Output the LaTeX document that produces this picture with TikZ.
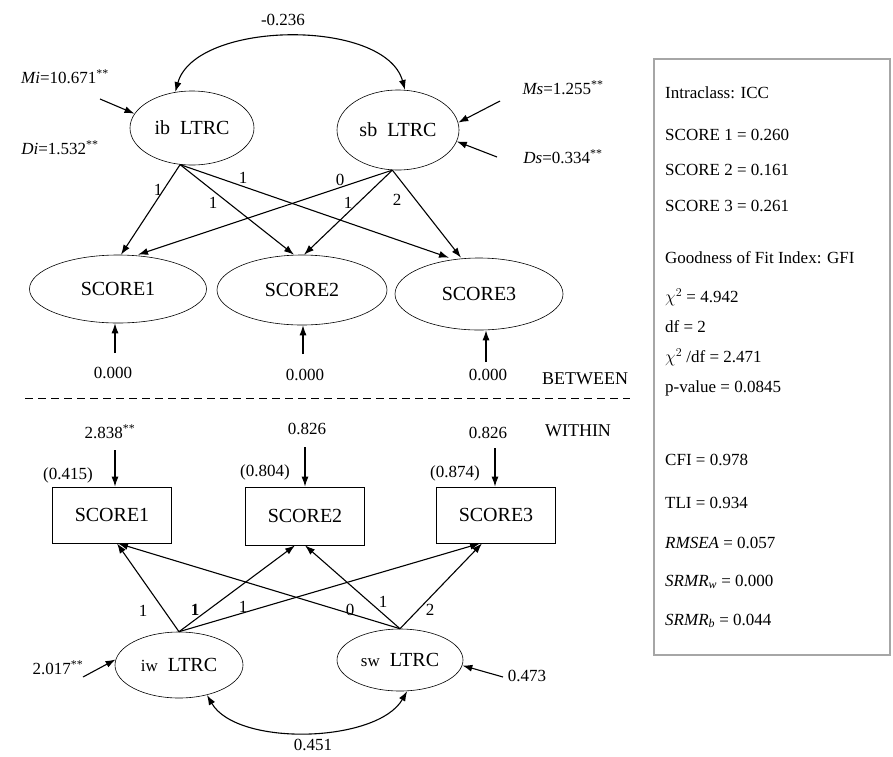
\documentclass[tikz,border=0pt]{standalone}
\usepackage{fontspec}
\setmainfont{Liberation Serif}
\usetikzlibrary{arrows.meta,shapes.geometric,calc}
\begin{document}
\begin{tikzpicture}[x=1pt,y=-1pt,
  lat/.style={draw, ellipse, line width=0.6pt, inner sep=0pt, font=\fontsize{20}{22}\selectfont},
  obs/.style={draw, rectangle, line width=0.8pt, inner sep=0pt, minimum width=119, minimum height=56, font=\fontsize{20}{22}\selectfont},
  arr/.style={-{Latex[length=10pt,width=7pt]}, line width=1.1pt},
  arrboth/.style={{Latex[length=10pt,width=7pt]}-{Latex[length=10pt,width=7pt]}, line width=1.1pt},
  lbl/.style={font=\fontsize{17}{20}\selectfont, inner sep=1pt},
  boxtxt/.style={font=\fontsize{17}{20}\selectfont, inner sep=0pt, anchor=west},
  sep/.style={line width=0.8pt, dash pattern=on 8pt off 5pt}
]
\useasboundingbox (0,0) rectangle (893,756);

% ---------- BETWEEN ----------
\node[lat, minimum width=124, minimum height=74] (ib) at (192,128) {ib\ \ LTRC};
\node[lat, minimum width=122, minimum height=80] (sb) at (398,130) {sb\ \ LTRC};
\node[lat, minimum width=177, minimum height=68] (s1b) at (118,289) {SCORE1};
\node[lat, minimum width=170, minimum height=70] (s2b) at (302,290) {SCORE2};
\node[lat, minimum width=168, minimum height=72] (s3b) at (479,294) {SCORE3};

\draw[arrboth] (ib.115) .. controls +(20,-72) and +(-20,-72) .. (sb.80);
\node[lbl] (cb) at (283,20) {-0.236};

\node[lbl] (mi) at (65,77) {\textit{Mi}=10.671\textsuperscript{**}};
\node[lbl] (di) at (60,148) {\textit{Di}=1.532\textsuperscript{**}};
\coordinate (miS) at (100,99);
\draw[arr] (miS) -- (ib.166);

\node[lbl] (ms) at (563,88) {\textit{Ms}=1.255\textsuperscript{**}};
\node[lbl] (ds) at (563,157) {\textit{Ds}=0.334\textsuperscript{**}};
\coordinate (msS) at (500,101);
\coordinate (dsS) at (497,157);
\draw[arr] (msS) -- (sb.7);
\draw[arr] (dsS) -- (sb.-11);

\draw[arr] (ib.-108) -- ([xshift=3]s1b.north);
\draw[arr] (ib.-108) -- ([xshift=-8]s2b.north);
\draw[arr] (ib.-108) -- ([xshift=-30]s3b.north);
\draw[arr] (sb.-98) -- ([xshift=20]s1b.north);
\draw[arr] (sb.-98) -- ([xshift=2]s2b.north);
\draw[arr] (sb.-98) -- ([xshift=-18]s3b.north);

\node[lbl] (lb1) at (158,190) {1};
\node[lbl] (lb2) at (213,203) {1};
\node[lbl] (lb3) at (243,178) {1};
\node[lbl] (lb4) at (340,180) {0};
\node[lbl] (lb5) at (348,203) {1};
\node[lbl] (lb6) at (397,200) {2};

\node[lbl] (e1) at (113,373) {0.000};
\node[lbl] (e2) at (305,375) {0.000};
\node[lbl] (e3) at (488,375) {0.000};
\coordinate (e1S) at (115,353);
\coordinate (e2S) at (303,354);
\coordinate (e3S) at (486,362);
\draw[arr] (e1S) -- ([xshift=-3]s1b.south);
\draw[arr] (e2S) -- ([xshift=1]s2b.south);
\draw[arr] (e3S) -- ([xshift=7]s3b.south);

\node[font=\fontsize{18}{20}\selectfont] (between) at (585,379) {BETWEEN};
\coordinate (dl) at (25,398);
\coordinate (dr) at (630,398);
\draw[sep] (dl) -- (dr);
\node[font=\fontsize{18}{20}\selectfont] (within) at (578,431) {WITHIN};

% ---------- WITHIN ----------
\node[obs] (s1w) at (112,515) {SCORE1};
\node[obs, minimum height=58] (s2w) at (305,516) {SCORE2};
\node[obs] (s3w) at (496,515) {SCORE3};

\node[lbl] (v1) at (110,432) {2.838\textsuperscript{**}};
\node[lbl] (v2) at (307,429) {0.826};
\node[lbl] (v3) at (488,433) {0.826};
\node[lbl] (r1) at (68,475) {(0.415)};
\node[lbl] (r2) at (265,472) {(0.804)};
\node[lbl] (r3) at (455,473) {(0.874)};
\coordinate (v1S) at (115,450);
\coordinate (v2S) at (305,447);
\coordinate (v3S) at (495,448);
\draw[arr] (v1S) -- ([xshift=3]s1w.north);
\draw[arr] (v2S) -- (s2w.north);
\draw[arr] (v3S) -- ([xshift=-1]s3w.north);

\node[lat, minimum width=128, minimum height=66] (iw) at (179,665) {{\fontsize{17}{20}\selectfont iw}\ \ LTRC};
\node[lat, minimum width=126, minimum height=62] (sw) at (400,660) {{\fontsize{17}{20}\selectfont sw}\ \ LTRC};

\draw[arr] (iw.north) -- ([xshift=5]s1w.south);
\draw[arr] (iw.north) -- ([xshift=-10]s2w.south);
\draw[arr] (iw.north) -- ([xshift=-16]s3w.south);
\draw[arr] (sw.north) -- ([xshift=6]s1w.south);
\draw[arr] (sw.north) -- (s2w.south);
\draw[arr] (sw.north) -- ([xshift=-14]s3w.south);

\node[lbl] (lw1) at (143,611) {1};
\node[lbl] (lw2) at (195,610) {\textbf{1}};
\node[lbl] (lw3) at (243,607) {1};
\node[lbl] (lw4) at (350,610) {0};
\node[lbl] (lw5) at (383,602) {1};
\node[lbl] (lw6) at (430,610) {2};

\node[lbl] (u1) at (58,668) {2.017\textsuperscript{**}};
\coordinate (u1S) at (83,677);
\draw[arr] (u1S) -- (iw.175);
\node[lbl] (u2) at (527,676) {0.473};
\coordinate (u2S) at (503,677);
\draw[arr] (u2S) -- (sw.-5);

\draw[arrboth] (iw.-47) .. controls +(30,52) and +(-30,52) .. (sw.-77);
\node[lbl] (cw) at (313,745) {0.451};

% ---------- FIT BOX ----------
\node[draw=gray!70, line width=1.5pt, minimum width=236, minimum height=596, anchor=north west, inner sep=0pt] (box) at (653,58) {};
\node[boxtxt] (t1) at (665,93) {Intraclass: ICC};
\node[boxtxt] (t2) at (665,135) {SCORE 1 = 0.260};
\node[boxtxt] (t3) at (665,170) {SCORE 2 = 0.161};
\node[boxtxt] (t4) at (665,206) {SCORE 3 = 0.261};
\node[boxtxt] (t5) at (665,258) {Goodness of Fit Index: GFI};
\node[boxtxt] (t6) at (665,297) {\(\chi^{2}\) = 4.942};
\node[boxtxt] (t7) at (665,327) {df = 2};
\node[boxtxt] (t8) at (665,357) {\(\chi^{2}\) /df = 2.471};
\node[boxtxt] (t9) at (665,388) {p-value = 0.0845};
\node[boxtxt] (t10) at (665,460) {CFI = 0.978};
\node[boxtxt] (t11) at (665,503) {TLI = 0.934};
\node[boxtxt] (t12) at (665,543) {\textit{RMSEA} = 0.057};
\node[boxtxt] (t13) at (665,582) {\textit{SRMR}\textsubscript{\textit{w}} = 0.000};
\node[boxtxt] (t14) at (665,621) {\textit{SRMR}\textsubscript{\textit{b}} = 0.044};
\end{tikzpicture}
\end{document}
